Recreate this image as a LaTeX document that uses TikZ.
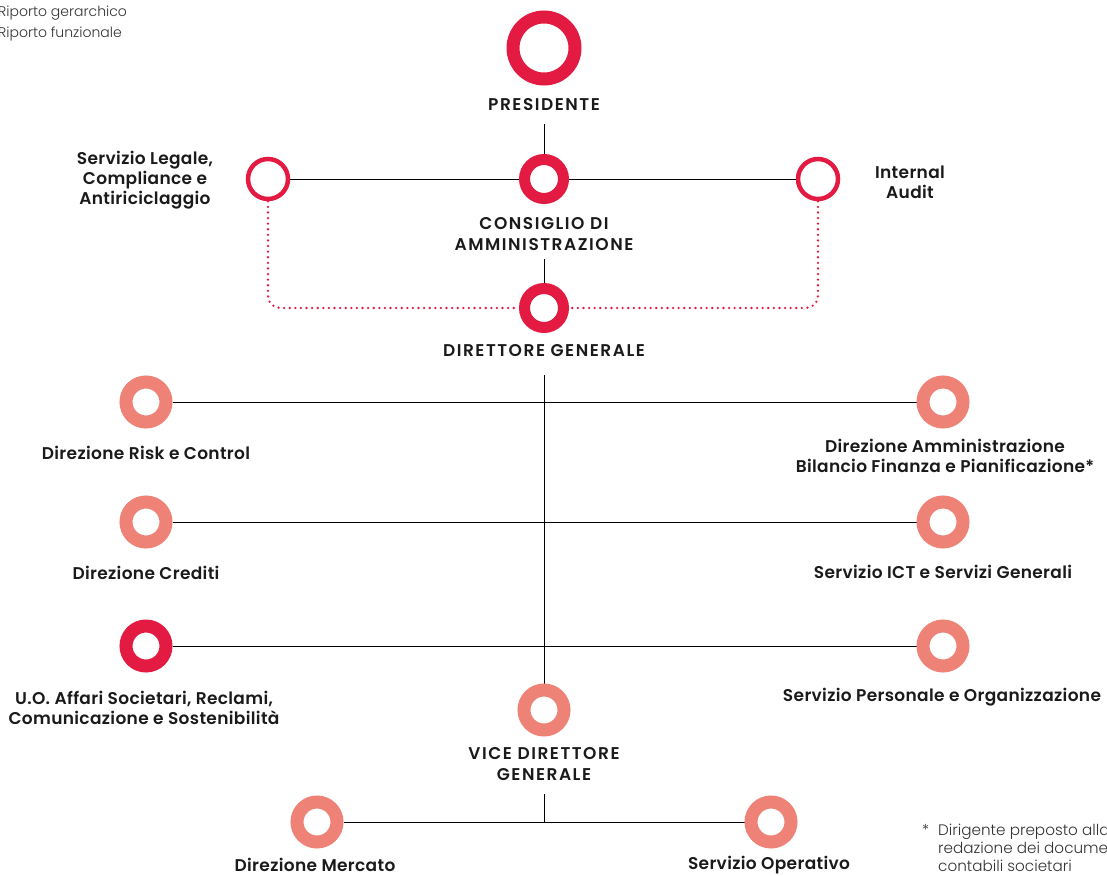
\documentclass[tikz,border=0pt]{standalone}
\usepackage{fontspec}
\setmainfont{Poppins}
\newfontfamily\labfont{Poppins SemiBold}[LetterSpace=2]
\newfontfamily\capfont{Poppins SemiBold}[LetterSpace=9]
\newfontfamily\lightfont{Poppins Light}
\usetikzlibrary{backgrounds}
\definecolor{crim}{HTML}{E31B43}
\definecolor{salm}{HTML}{EE8276}
\definecolor{txt}{HTML}{1A1A1A}
\definecolor{lighttxt}{HTML}{333333}
\tikzset{
  ringbig/.style={circle,draw=crim,line width=13pt,minimum size=62pt,inner sep=0pt},
  ringmid/.style={circle,draw=crim,line width=11pt,minimum size=39pt,inner sep=0pt},
  ringsmall/.style={circle,draw=crim,line width=4.5pt,minimum size=40pt,inner sep=0pt},
  ringsal/.style={circle,draw=salm,line width=13pt,minimum size=40pt,inner sep=0pt},
  ringcrim/.style={circle,draw=crim,line width=13pt,minimum size=40pt,inner sep=0pt},
  lab/.style={align=center,inner sep=0pt,text=txt,font=\labfont\fontsize{17}{20}\selectfont},
  caplab/.style={align=center,inner sep=0pt,text=txt,font=\capfont\fontsize{17}{20.5}\selectfont},
  note/.style={align=left,inner sep=0pt,text=lighttxt,anchor=west,font=\lightfont\fontsize{15.2}{18}\selectfont},
  conn/.style={draw=black,line width=0.9pt},
  func/.style={draw=crim,line width=2.6pt,line cap=round,dash pattern=on 0pt off 5.6pt,rounded corners=12pt}
}
\begin{document}
\begin{tikzpicture}[x=1pt,y=-1pt]
\clip (0,0) rectangle (1107,875);
% legend
\node[note,font=\lightfont\fontsize{14}{15}\selectfont] (leg1) at (-2,13) {Riporto gerarchico};
\node[note,font=\lightfont\fontsize{14}{15}\selectfont] (leg2) at (-2,34) {Riporto funzionale};
% top rings
\node[ringbig] (pres) at (544,48) {};
\node[caplab] (presl) at (544,105) {PRESIDENTE};
\node[ringmid] (cda) at (544,179) {};
\node[caplab] (cdal) at (544,234) {CONSIGLIO DI\\AMMINISTRAZIONE};
\node[ringsmall] (leg) at (268,179) {};
\node[lab] (legl) at (145,180) {Servizio Legale,\\Compliance e\\Antiriciclaggio};
\node[ringsmall] (aud) at (818,179) {};
\node[lab] (audl) at (910,182) {Internal\\Audit};
\node[ringmid] (dg) at (544,308) {};
\node[caplab] (dgl) at (544,351) {DIRETTORE GENERALE};
% side rings
\node[ringsal] (risk) at (146,402) {};
\node[lab] (riskl) at (146,453) {Direzione Risk e Control};
\node[ringsal] (amm) at (943,402) {};
\node[lab] (amml) at (945,456) {Direzione Amministrazione\\Bilancio Finanza e Pianificazione*};
\node[ringsal] (cred) at (146,522) {};
\node[lab] (credl) at (146,573) {Direzione Crediti};
\node[ringsal] (ict) at (943,522) {};
\node[lab] (ictl) at (943,572) {Servizio ICT e Servizi Generali};
\node[ringcrim] (uo) at (146,646) {};
\node[lab] (uol) at (144,708) {U.O. Affari Societari, Reclami,\\Comunicazione e Sostenibilità};
\node[ringsal] (pers) at (943,646) {};
\node[lab] (persl) at (942,697) {Servizio Personale e Organizzazione};
\node[ringsal] (vdg) at (544,710) {};
\node[caplab] (vdgl) at (544,764) {VICE DIRETTORE\\GENERALE};
\node[ringsal] (merc) at (317,822) {};
\node[lab] (mercl) at (315,865) {Direzione Mercato};
\node[ringsal] (oper) at (771,822) {};
\node[lab] (operl) at (769,865) {Servizio Operativo};
% footnote
\node[note] (star) at (922,830) {*};
\node[note] (fn) at (938,848) {Dirigente preposto alla\\redazione dei documenti\\contabili societari};
% connector endpoints
\coordinate (p1) at (544,124);
\coordinate (c1) at (544,259);
\coordinate (d1) at (544,375);
\coordinate (v1) at (544,794);
\coordinate (v2) at (544,822);
\begin{scope}[on background layer]
\draw[conn] (p1) -- (cda.north);
\draw[conn] (leg.east) -- (cda.west);
\draw[conn] (cda.east) -- (aud.west);
\draw[conn] (c1) -- (dg.north);
\draw[conn] (d1) -- (vdg.north);
\draw[conn] (risk.east) -- (amm.west);
\draw[conn] (cred.east) -- (ict.west);
\draw[conn] (uo.east) -- (pers.west);
\draw[conn] (v1) -- (v2);
\draw[conn] (merc.east) -- (oper.west);
\draw[func] (leg.south) |- (dg.west);
\draw[func] (aud.south) |- (dg.east);
\end{scope}
\end{tikzpicture}
\end{document}
